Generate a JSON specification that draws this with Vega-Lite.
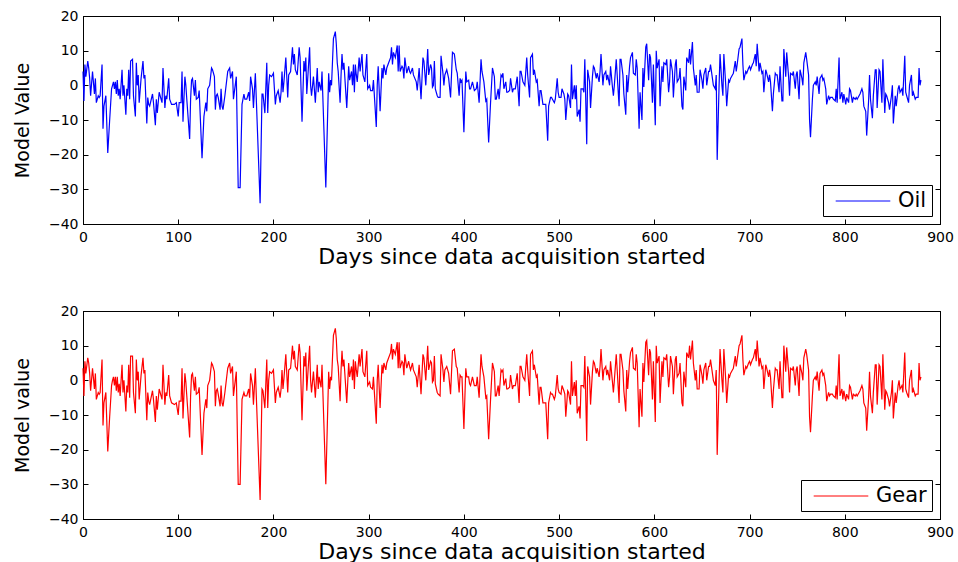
{
"$schema": "https://vega.github.io/schema/vega-lite/v6.json",
"padding": {"left": 12, "top": 8, "right": 5, "bottom": 0},
"background": "white",
"config": {
  "font": "DejaVu Sans",
  "view": {"stroke": "black", "strokeWidth": 1},
  "axis": {"grid": false, "domainColor": "black", "domainWidth": 1, "tickColor": "black", "tickSize": -5, "labelColor": "black", "titleColor": "black", "labelFont": "DejaVu Sans", "labelFontSize": 14, "titleFont": "DejaVu Sans", "titleFontWeight": "normal", "labelFlush": false, "labelOverlap": false},
  "legend": {"strokeColor": "black", "fillColor": "white", "cornerRadius": 0, "padding": 5, "labelFont": "DejaVu Sans", "labelFontSize": 21, "labelColor": "black", "symbolType": "M-2.6,0H2.6", "symbolSize": 441, "symbolStrokeWidth": 1, "symbolOffset": 24, "labelOffset": 24, "offset": 8, "labelExpr": "datum.label + ' '"}
},
"datasets": {"d": [
{"day":0,"Oil":4,"Gear":3.5},{"day":1,"Oil":-4.5,"Gear":-4.5},{"day":2,"Oil":6,"Gear":5.5},{"day":3,"Oil":2.5,"Gear":2},{"day":5,"Oil":7,"Gear":6.5},{"day":6,"Oil":5,"Gear":5},{"day":7,"Oil":2,"Gear":2},{"day":8,"Oil":-3,"Gear":-3},{"day":10,"Oil":4,"Gear":3.5},{"day":12,"Oil":-2.5,"Gear":-2.5},{"day":13,"Oil":2,"Gear":2},{"day":14,"Oil":-5,"Gear":-5.5},{"day":16,"Oil":-3,"Gear":-3.5},{"day":17,"Oil":-3.5,"Gear":-4},{"day":18,"Oil":-3,"Gear":-3.5},{"day":20,"Oil":6,"Gear":6},{"day":21,"Oil":-12.5,"Gear":-13},{"day":22,"Oil":-6,"Gear":-6.5},{"day":24,"Oil":-3,"Gear":-3.5},{"day":26,"Oil":-19.5,"Gear":-20.5},{"day":28,"Oil":-10,"Gear":-10.5},{"day":30,"Oil":-1,"Gear":-1.5},{"day":31,"Oil":0,"Gear":0},{"day":32,"Oil":1,"Gear":1},{"day":33,"Oil":-1,"Gear":-1.5},{"day":34,"Oil":1,"Gear":1},{"day":35,"Oil":-2.5,"Gear":-3},{"day":36,"Oil":1.5,"Gear":1},{"day":37,"Oil":-3,"Gear":-3.5},{"day":38,"Oil":-1,"Gear":-1},{"day":39,"Oil":-4,"Gear":-4.5},{"day":41,"Oil":4.5,"Gear":4.5},{"day":42,"Oil":-3,"Gear":-3.5},{"day":43,"Oil":0,"Gear":0},{"day":45,"Oil":-8.5,"Gear":-9},{"day":46,"Oil":-1,"Gear":-1.5},{"day":47,"Oil":-3,"Gear":-3.5},{"day":48,"Oil":4.5,"Gear":4.5},{"day":49,"Oil":-4,"Gear":-5},{"day":50,"Oil":7,"Gear":7},{"day":52,"Oil":7.5,"Gear":7},{"day":53,"Oil":-3,"Gear":-3.5},{"day":55,"Oil":-9,"Gear":-9.5},{"day":56,"Oil":6.5,"Gear":6},{"day":57,"Oil":0,"Gear":0},{"day":58,"Oil":3,"Gear":2.5},{"day":59,"Oil":-5,"Gear":-5.5},{"day":61,"Oil":2,"Gear":1.5},{"day":63,"Oil":7,"Gear":6.5},{"day":64,"Oil":2,"Gear":2},{"day":65,"Oil":3,"Gear":3},{"day":67,"Oil":-11,"Gear":-11.5},{"day":68,"Oil":-3.5,"Gear":-3.5},{"day":69,"Oil":-5.5,"Gear":-6},{"day":70,"Oil":-6,"Gear":-7},{"day":73,"Oil":-2.5,"Gear":-3},{"day":74,"Oil":-5,"Gear":-5.5},{"day":76,"Oil":-11.5,"Gear":-12},{"day":77,"Oil":-4,"Gear":-4.5},{"day":78,"Oil":-8,"Gear":-8.5},{"day":80,"Oil":-2,"Gear":-2.5},{"day":81,"Oil":-3,"Gear":-3.5},{"day":83,"Oil":-5,"Gear":-5.5},{"day":84,"Oil":5,"Gear":4.5},{"day":86,"Oil":-6.5,"Gear":-7},{"day":87,"Oil":-3,"Gear":-3.5},{"day":88,"Oil":-4,"Gear":-4.5},{"day":90,"Oil":2,"Gear":1.5},{"day":91,"Oil":-4,"Gear":-4.5},{"day":93,"Oil":-5.5,"Gear":-6.5},{"day":96,"Oil":-5.5,"Gear":-7},{"day":98,"Oil":-5,"Gear":-6.5},{"day":100,"Oil":-9,"Gear":-10},{"day":101,"Oil":-5,"Gear":-6},{"day":103,"Oil":-5,"Gear":-6},{"day":104,"Oil":4,"Gear":3.5},{"day":105,"Oil":-10.5,"Gear":-11},{"day":107,"Oil":2.5,"Gear":2},{"day":108,"Oil":0,"Gear":-0.5},{"day":109,"Oil":-4,"Gear":-4.5},{"day":112,"Oil":-15.5,"Gear":-16.5},{"day":113,"Oil":-4,"Gear":-4.5},{"day":114,"Oil":1.5,"Gear":1.5},{"day":115,"Oil":2,"Gear":2},{"day":117,"Oil":-3,"Gear":-3},{"day":118,"Oil":1.5,"Gear":1},{"day":119,"Oil":-4,"Gear":-4},{"day":121,"Oil":-3.5,"Gear":-3.5},{"day":122,"Oil":-1.5,"Gear":-2},{"day":125,"Oil":-21,"Gear":-21.5},{"day":127,"Oil":-9,"Gear":-9.5},{"day":129,"Oil":-5,"Gear":-5.5},{"day":130,"Oil":-7.5,"Gear":-8},{"day":131,"Oil":-1,"Gear":-1.5},{"day":133,"Oil":0,"Gear":0},{"day":135,"Oil":5,"Gear":5},{"day":136,"Oil":4.5,"Gear":4.5},{"day":138,"Oil":2.5,"Gear":2.5},{"day":139,"Oil":-7,"Gear":-7.5},{"day":140,"Oil":-3,"Gear":-3},{"day":141,"Oil":-2.5,"Gear":-2.5},{"day":142,"Oil":-3.5,"Gear":-4},{"day":144,"Oil":-7,"Gear":-7.5},{"day":145,"Oil":-1,"Gear":-1.5},{"day":146,"Oil":-6,"Gear":-6.5},{"day":147,"Oil":-7,"Gear":-7.5},{"day":149,"Oil":-3,"Gear":-3.5},{"day":152,"Oil":4,"Gear":3.5},{"day":154,"Oil":5,"Gear":5},{"day":155,"Oil":2,"Gear":2},{"day":157,"Oil":4,"Gear":4},{"day":158,"Oil":-4,"Gear":-4.5},{"day":161,"Oil":2.5,"Gear":2.5},{"day":163,"Oil":-29.5,"Gear":-30},{"day":165,"Oil":-29.5,"Gear":-30},{"day":167,"Oil":-5.5,"Gear":-5.5},{"day":169,"Oil":-2.5,"Gear":-3.5},{"day":170,"Oil":-4,"Gear":-4.5},{"day":172,"Oil":-4,"Gear":-4.5},{"day":174,"Oil":-2,"Gear":-2.5},{"day":175,"Oil":-4.5,"Gear":-5},{"day":176,"Oil":2.5,"Gear":2},{"day":178,"Oil":-1,"Gear":-1.5},{"day":179,"Oil":-6.5,"Gear":-7},{"day":181,"Oil":3.5,"Gear":3.5},{"day":182,"Oil":-4,"Gear":-4.5},{"day":186,"Oil":-34,"Gear":-34.5},{"day":188,"Oil":-2.5,"Gear":-2.5},{"day":189,"Oil":-2.5,"Gear":-3},{"day":191,"Oil":-8,"Gear":-8},{"day":193,"Oil":6.5,"Gear":6},{"day":194,"Oil":-8,"Gear":-8},{"day":195,"Oil":0,"Gear":0},{"day":196,"Oil":3,"Gear":2.5},{"day":198,"Oil":2.5,"Gear":2},{"day":200,"Oil":3.5,"Gear":3},{"day":202,"Oil":-5.5,"Gear":-6.5},{"day":203,"Oil":-3,"Gear":-3.5},{"day":205,"Oil":-1.5,"Gear":-2},{"day":207,"Oil":-5,"Gear":-5},{"day":208,"Oil":-2,"Gear":-2.5},{"day":209,"Oil":4,"Gear":3},{"day":210,"Oil":-2,"Gear":-2.5},{"day":211,"Oil":1,"Gear":0.5},{"day":213,"Oil":8,"Gear":7.5},{"day":214,"Oil":2.5,"Gear":2},{"day":215,"Oil":-3.5,"Gear":-3.5},{"day":216,"Oil":3,"Gear":3},{"day":218,"Oil":4,"Gear":3.5},{"day":220,"Oil":11,"Gear":10},{"day":221,"Oil":6,"Gear":6},{"day":222,"Oil":9,"Gear":8.5},{"day":223,"Oil":4.5,"Gear":4},{"day":225,"Oil":3,"Gear":3},{"day":227,"Oil":11,"Gear":10.5},{"day":228,"Oil":8,"Gear":8},{"day":230,"Oil":-10.5,"Gear":-11.5},{"day":232,"Oil":7,"Gear":7},{"day":233,"Oil":4,"Gear":4},{"day":234,"Oil":8,"Gear":8},{"day":235,"Oil":-2.5,"Gear":-3},{"day":238,"Oil":11,"Gear":10},{"day":239,"Oil":0,"Gear":0},{"day":240,"Oil":-3,"Gear":-3.5},{"day":242,"Oil":2.5,"Gear":2.5},{"day":244,"Oil":-5,"Gear":-5},{"day":246,"Oil":5,"Gear":4.5},{"day":247,"Oil":-2,"Gear":-2.5},{"day":248,"Oil":1,"Gear":1},{"day":250,"Oil":-1.5,"Gear":-2},{"day":251,"Oil":4,"Gear":4.5},{"day":255,"Oil":-29.5,"Gear":-30},{"day":258,"Oil":3.5,"Gear":2.5},{"day":259,"Oil":-2,"Gear":-2.5},{"day":260,"Oil":1.5,"Gear":1},{"day":261,"Oil":0,"Gear":0},{"day":263,"Oil":13.5,"Gear":13},{"day":265,"Oil":15.5,"Gear":15},{"day":266,"Oil":12,"Gear":12},{"day":267,"Oil":6.5,"Gear":6},{"day":268,"Oil":4,"Gear":4},{"day":270,"Oil":-5,"Gear":-6},{"day":271,"Oil":3,"Gear":3},{"day":272,"Oil":9,"Gear":8.5},{"day":273,"Oil":4.5,"Gear":4},{"day":274,"Oil":6.5,"Gear":6},{"day":277,"Oil":-6.5,"Gear":-6.5},{"day":279,"Oil":5.5,"Gear":5},{"day":280,"Oil":1.5,"Gear":1},{"day":282,"Oil":4,"Gear":4},{"day":283,"Oil":0,"Gear":0},{"day":284,"Oil":6,"Gear":6},{"day":285,"Oil":-2,"Gear":-2.5},{"day":286,"Oil":6,"Gear":5.5},{"day":287,"Oil":3,"Gear":3},{"day":288,"Oil":1,"Gear":1},{"day":290,"Oil":8,"Gear":7.5},{"day":291,"Oil":4,"Gear":4},{"day":293,"Oil":9,"Gear":9},{"day":294,"Oil":3,"Gear":2.5},{"day":296,"Oil":1,"Gear":1},{"day":298,"Oil":9,"Gear":8.5},{"day":299,"Oil":-1,"Gear":-1.5},{"day":301,"Oil":0,"Gear":-0.5},{"day":302,"Oil":-1.5,"Gear":-2},{"day":304,"Oil":-1.5,"Gear":-2.5},{"day":305,"Oil":1.5,"Gear":1},{"day":308,"Oil":-12,"Gear":-12.5},{"day":309,"Oil":0,"Gear":0},{"day":310,"Oil":5.5,"Gear":4.5},{"day":312,"Oil":-7.5,"Gear":-8},{"day":314,"Oil":5,"Gear":4.5},{"day":315,"Oil":2,"Gear":2},{"day":316,"Oil":6,"Gear":5},{"day":318,"Oil":3,"Gear":3},{"day":319,"Oil":5,"Gear":5},{"day":321,"Oil":6.5,"Gear":6.5},{"day":323,"Oil":8,"Gear":8},{"day":324,"Oil":11,"Gear":10.5},{"day":325,"Oil":6,"Gear":6},{"day":326,"Oil":9.5,"Gear":9},{"day":328,"Oil":8,"Gear":7.5},{"day":330,"Oil":11.5,"Gear":11},{"day":331,"Oil":4,"Gear":3.5},{"day":332,"Oil":11.5,"Gear":11},{"day":333,"Oil":4,"Gear":3.5},{"day":335,"Oil":5.5,"Gear":5.5},{"day":336,"Oil":5,"Gear":5},{"day":337,"Oil":2,"Gear":1.5},{"day":338,"Oil":8,"Gear":7.5},{"day":340,"Oil":3.5,"Gear":3.5},{"day":342,"Oil":5.5,"Gear":5.5},{"day":343,"Oil":4,"Gear":4},{"day":344,"Oil":3.5,"Gear":3},{"day":346,"Oil":5,"Gear":5},{"day":347,"Oil":3,"Gear":3},{"day":350,"Oil":1,"Gear":1},{"day":351,"Oil":-1.5,"Gear":-2},{"day":353,"Oil":5,"Gear":4.5},{"day":355,"Oil":-4,"Gear":-4},{"day":357,"Oil":8,"Gear":7.5},{"day":358,"Oil":7,"Gear":6.5},{"day":360,"Oil":0,"Gear":0},{"day":362,"Oil":10.5,"Gear":10},{"day":363,"Oil":3,"Gear":3},{"day":365,"Oil":6,"Gear":5.5},{"day":366,"Oil":5,"Gear":5},{"day":367,"Oil":-0.5,"Gear":-0.5},{"day":368,"Oil":0,"Gear":0},{"day":369,"Oil":7,"Gear":7},{"day":370,"Oil":-1,"Gear":-1},{"day":372,"Oil":-3,"Gear":-3.5},{"day":373,"Oil":-3.5,"Gear":-4},{"day":375,"Oil":-3.5,"Gear":-4.5},{"day":376,"Oil":8.5,"Gear":7.5},{"day":378,"Oil":3.5,"Gear":3},{"day":379,"Oil":0,"Gear":-0.5},{"day":380,"Oil":3,"Gear":3},{"day":382,"Oil":4.5,"Gear":4},{"day":384,"Oil":2,"Gear":2},{"day":386,"Oil":-3.5,"Gear":-4},{"day":388,"Oil":9.5,"Gear":8.5},{"day":390,"Oil":9,"Gear":9},{"day":392,"Oil":4.5,"Gear":4},{"day":393,"Oil":3.5,"Gear":3.5},{"day":395,"Oil":-3,"Gear":-3.5},{"day":396,"Oil":2,"Gear":1.5},{"day":397,"Oil":1,"Gear":1},{"day":398,"Oil":1.5,"Gear":1},{"day":400,"Oil":-13.5,"Gear":-14},{"day":402,"Oil":4,"Gear":3.5},{"day":403,"Oil":1,"Gear":1},{"day":405,"Oil":1.5,"Gear":1},{"day":406,"Oil":-1,"Gear":-1},{"day":407,"Oil":-1,"Gear":-1.5},{"day":409,"Oil":1,"Gear":1},{"day":411,"Oil":-1.5,"Gear":-1.5},{"day":413,"Oil":-1,"Gear":-1.5},{"day":414,"Oil":1,"Gear":1},{"day":416,"Oil":-5,"Gear":-5},{"day":418,"Oil":7.5,"Gear":7.5},{"day":419,"Oil":4,"Gear":4},{"day":421,"Oil":1,"Gear":1},{"day":423,"Oil":-4.5,"Gear":-5},{"day":424,"Oil":-4,"Gear":-4.5},{"day":426,"Oil":-16.5,"Gear":-17},{"day":428,"Oil":-5,"Gear":-5.5},{"day":430,"Oil":5,"Gear":5},{"day":432,"Oil":2.5,"Gear":2.5},{"day":433,"Oil":-4,"Gear":-4.5},{"day":434,"Oil":-4,"Gear":-4.5},{"day":436,"Oil":-1,"Gear":-1.5},{"day":437,"Oil":-4,"Gear":-4.5},{"day":439,"Oil":3,"Gear":3},{"day":440,"Oil":2.5,"Gear":2.5},{"day":441,"Oil":3.5,"Gear":3},{"day":442,"Oil":-1,"Gear":-1.5},{"day":444,"Oil":1,"Gear":0.5},{"day":445,"Oil":-2,"Gear":-2.5},{"day":446,"Oil":-2,"Gear":-2.5},{"day":448,"Oil":-1.5,"Gear":-2},{"day":449,"Oil":2,"Gear":1.5},{"day":451,"Oil":-2,"Gear":-2.5},{"day":452,"Oil":-1,"Gear":-1.5},{"day":454,"Oil":-1,"Gear":-1.5},{"day":456,"Oil":2.5,"Gear":2},{"day":458,"Oil":-6,"Gear":-6.5},{"day":459,"Oil":4,"Gear":4},{"day":460,"Oil":4,"Gear":4},{"day":462,"Oil":1,"Gear":1},{"day":464,"Oil":0,"Gear":0},{"day":466,"Oil":8,"Gear":7.5},{"day":467,"Oil":3,"Gear":3},{"day":469,"Oil":-3.5,"Gear":-4.5},{"day":470,"Oil":8,"Gear":7.5},{"day":472,"Oil":9,"Gear":8.5},{"day":473,"Oil":3,"Gear":3},{"day":474,"Oil":4.5,"Gear":4.5},{"day":476,"Oil":1,"Gear":1},{"day":477,"Oil":1.5,"Gear":1.5},{"day":479,"Oil":-6,"Gear":-7},{"day":480,"Oil":-1.5,"Gear":-2},{"day":481,"Oil":-1.5,"Gear":-2},{"day":483,"Oil":-5.5,"Gear":-6.5},{"day":484,"Oil":-5.5,"Gear":-6.5},{"day":486,"Oil":-5.5,"Gear":-6.5},{"day":488,"Oil":-16,"Gear":-17},{"day":489,"Oil":-6,"Gear":-6.5},{"day":491,"Oil":-3.5,"Gear":-3.5},{"day":492,"Oil":-3.5,"Gear":-4},{"day":493,"Oil":-4,"Gear":-4},{"day":495,"Oil":-5,"Gear":-5.5},{"day":496,"Oil":-4,"Gear":-4.5},{"day":498,"Oil":2,"Gear":1.5},{"day":499,"Oil":-2,"Gear":-2.5},{"day":500,"Oil":-3.5,"Gear":-3.5},{"day":502,"Oil":-3.5,"Gear":-4},{"day":503,"Oil":-1,"Gear":-1.5},{"day":505,"Oil":-2.5,"Gear":-3},{"day":506,"Oil":-4,"Gear":-4},{"day":507,"Oil":-10,"Gear":-10.5},{"day":509,"Oil":-2.5,"Gear":-3},{"day":510,"Oil":-3,"Gear":-3.5},{"day":512,"Oil":-6.5,"Gear":-7},{"day":513,"Oil":6,"Gear":5.5},{"day":514,"Oil":-4,"Gear":-4.5},{"day":516,"Oil":0,"Gear":-0.5},{"day":517,"Oil":-4,"Gear":-4.5},{"day":518,"Oil":0,"Gear":0},{"day":519,"Oil":-9,"Gear":-9.5},{"day":521,"Oil":-7,"Gear":-7.5},{"day":522,"Oil":-10.5,"Gear":-11},{"day":523,"Oil":-1,"Gear":-1.5},{"day":525,"Oil":-1,"Gear":-1.5},{"day":526,"Oil":-2,"Gear":-2},{"day":527,"Oil":7.5,"Gear":7},{"day":529,"Oil":-17,"Gear":-17.5},{"day":530,"Oil":4.5,"Gear":4},{"day":532,"Oil":1,"Gear":1},{"day":533,"Oil":-6.5,"Gear":-7},{"day":535,"Oil":2.5,"Gear":2.5},{"day":536,"Oil":5.5,"Gear":5.5},{"day":537,"Oil":5,"Gear":5},{"day":539,"Oil":2,"Gear":2},{"day":540,"Oil":3.5,"Gear":3.5},{"day":542,"Oil":1,"Gear":1},{"day":543,"Oil":4,"Gear":4},{"day":544,"Oil":9,"Gear":9},{"day":546,"Oil":0,"Gear":0},{"day":547,"Oil":3,"Gear":3},{"day":549,"Oil":4,"Gear":4},{"day":550,"Oil":1.5,"Gear":1.5},{"day":551,"Oil":3,"Gear":3},{"day":553,"Oil":0,"Gear":0},{"day":554,"Oil":5.5,"Gear":5.5},{"day":556,"Oil":-0.5,"Gear":-0.5},{"day":557,"Oil":-3,"Gear":-3.5},{"day":558,"Oil":0,"Gear":0},{"day":560,"Oil":7.5,"Gear":7.5},{"day":561,"Oil":3,"Gear":3},{"day":563,"Oil":-6,"Gear":-6.5},{"day":564,"Oil":7.5,"Gear":7.5},{"day":565,"Oil":7.5,"Gear":7.5},{"day":567,"Oil":3,"Gear":3},{"day":568,"Oil":-2.5,"Gear":-3},{"day":570,"Oil":-8.5,"Gear":-9},{"day":571,"Oil":3,"Gear":3},{"day":572,"Oil":-2,"Gear":-2.5},{"day":574,"Oil":5.5,"Gear":5.5},{"day":575,"Oil":8,"Gear":8},{"day":577,"Oil":9.5,"Gear":9.5},{"day":578,"Oil":3.5,"Gear":3.5},{"day":580,"Oil":3,"Gear":3},{"day":581,"Oil":7.5,"Gear":7.5},{"day":582,"Oil":5,"Gear":5},{"day":584,"Oil":-12.5,"Gear":-13.5},{"day":585,"Oil":-2,"Gear":-2.5},{"day":587,"Oil":-10,"Gear":-10.5},{"day":588,"Oil":5,"Gear":5},{"day":589,"Oil":-0.5,"Gear":-0.5},{"day":591,"Oil":11,"Gear":11},{"day":592,"Oil":12,"Gear":11.5},{"day":594,"Oil":1.5,"Gear":1.5},{"day":595,"Oil":9,"Gear":9},{"day":596,"Oil":8,"Gear":8},{"day":598,"Oil":-5,"Gear":-5.5},{"day":599,"Oil":6,"Gear":5.5},{"day":601,"Oil":-11.5,"Gear":-12},{"day":602,"Oil":10,"Gear":10},{"day":603,"Oil":5,"Gear":5},{"day":605,"Oil":7.5,"Gear":7},{"day":606,"Oil":-6,"Gear":-6.5},{"day":608,"Oil":5.5,"Gear":5.5},{"day":609,"Oil":1,"Gear":1},{"day":610,"Oil":6.5,"Gear":6.5},{"day":612,"Oil":6,"Gear":6},{"day":613,"Oil":7.5,"Gear":7.5},{"day":615,"Oil":-2,"Gear":-2},{"day":616,"Oil":1,"Gear":1},{"day":617,"Oil":7.5,"Gear":7},{"day":619,"Oil":4,"Gear":4},{"day":620,"Oil":-3.5,"Gear":-4},{"day":622,"Oil":6,"Gear":6},{"day":623,"Oil":7.5,"Gear":7},{"day":624,"Oil":1,"Gear":1},{"day":626,"Oil":2,"Gear":2},{"day":627,"Oil":5,"Gear":5},{"day":629,"Oil":-6,"Gear":-6.5},{"day":630,"Oil":-7,"Gear":-7.5},{"day":631,"Oil":2.5,"Gear":2.5},{"day":633,"Oil":-1.5,"Gear":-2},{"day":634,"Oil":8,"Gear":8},{"day":636,"Oil":6.5,"Gear":6.5},{"day":637,"Oil":10.5,"Gear":10},{"day":638,"Oil":6,"Gear":6},{"day":640,"Oil":12.5,"Gear":11.5},{"day":641,"Oil":5,"Gear":5},{"day":643,"Oil":0,"Gear":0},{"day":644,"Oil":3,"Gear":3},{"day":645,"Oil":-2,"Gear":-2.5},{"day":647,"Oil":-2,"Gear":-2.5},{"day":648,"Oil":4.5,"Gear":4.5},{"day":650,"Oil":1.5,"Gear":1.5},{"day":651,"Oil":-1,"Gear":-1},{"day":652,"Oil":3,"Gear":3},{"day":654,"Oil":5,"Gear":5},{"day":655,"Oil":0,"Gear":0},{"day":657,"Oil":4,"Gear":4},{"day":658,"Oil":4,"Gear":4},{"day":659,"Oil":6,"Gear":6},{"day":661,"Oil":2,"Gear":2},{"day":662,"Oil":0,"Gear":0},{"day":664,"Oil":-1,"Gear":-1.5},{"day":665,"Oil":3,"Gear":3},{"day":666,"Oil":-21.5,"Gear":-21.5},{"day":668,"Oil":0,"Gear":0},{"day":669,"Oil":9,"Gear":9},{"day":671,"Oil":0,"Gear":0},{"day":672,"Oil":-3,"Gear":-3.5},{"day":673,"Oil":9,"Gear":9},{"day":675,"Oil":0,"Gear":0},{"day":676,"Oil":-6,"Gear":-6.5},{"day":678,"Oil":1.5,"Gear":1.5},{"day":679,"Oil":1,"Gear":1},{"day":680,"Oil":2,"Gear":2},{"day":682,"Oil":3,"Gear":3},{"day":683,"Oil":3.5,"Gear":3.5},{"day":685,"Oil":7,"Gear":7},{"day":686,"Oil":4,"Gear":4},{"day":687,"Oil":6,"Gear":6},{"day":689,"Oil":10.5,"Gear":10},{"day":690,"Oil":11,"Gear":10.5},{"day":692,"Oil":13.5,"Gear":13},{"day":693,"Oil":6,"Gear":6},{"day":694,"Oil":1.5,"Gear":1.5},{"day":696,"Oil":4,"Gear":4},{"day":697,"Oil":3.5,"Gear":3.5},{"day":699,"Oil":5,"Gear":5},{"day":700,"Oil":5.5,"Gear":5.5},{"day":701,"Oil":4.5,"Gear":4.5},{"day":703,"Oil":6,"Gear":6},{"day":704,"Oil":6.5,"Gear":6.5},{"day":706,"Oil":9,"Gear":9},{"day":707,"Oil":5.5,"Gear":5.5},{"day":708,"Oil":12,"Gear":11.5},{"day":710,"Oil":4,"Gear":4},{"day":711,"Oil":6.5,"Gear":6.5},{"day":713,"Oil":3.5,"Gear":3.5},{"day":714,"Oil":4,"Gear":4},{"day":715,"Oil":-2,"Gear":-2.5},{"day":717,"Oil":4.5,"Gear":4.5},{"day":718,"Oil":3.5,"Gear":3.5},{"day":720,"Oil":1,"Gear":1},{"day":721,"Oil":3,"Gear":3},{"day":722,"Oil":1,"Gear":1},{"day":724,"Oil":-7.5,"Gear":-8},{"day":725,"Oil":-2.5,"Gear":-3},{"day":727,"Oil":3.5,"Gear":3.5},{"day":728,"Oil":3,"Gear":3},{"day":729,"Oil":3,"Gear":3},{"day":731,"Oil":-2,"Gear":-2.5},{"day":732,"Oil":5.5,"Gear":5.5},{"day":734,"Oil":-4.5,"Gear":-5},{"day":735,"Oil":-4.5,"Gear":-5},{"day":736,"Oil":10.5,"Gear":10},{"day":738,"Oil":2.5,"Gear":2.5},{"day":739,"Oil":9.5,"Gear":9.5},{"day":741,"Oil":2.5,"Gear":2.5},{"day":742,"Oil":-3,"Gear":-3.5},{"day":743,"Oil":3.5,"Gear":3.5},{"day":745,"Oil":3,"Gear":3},{"day":746,"Oil":4,"Gear":4},{"day":748,"Oil":-1,"Gear":-1.5},{"day":749,"Oil":3,"Gear":3},{"day":750,"Oil":4,"Gear":4},{"day":752,"Oil":-4,"Gear":-4.5},{"day":753,"Oil":4.5,"Gear":4.5},{"day":755,"Oil":2,"Gear":2},{"day":756,"Oil":0,"Gear":0},{"day":757,"Oil":6.5,"Gear":6.5},{"day":759,"Oil":9.5,"Gear":9},{"day":760,"Oil":7.5,"Gear":7.5},{"day":762,"Oil":3,"Gear":3},{"day":763,"Oil":-10,"Gear":-10.5},{"day":764,"Oil":-15,"Gear":-15},{"day":766,"Oil":-4,"Gear":-4.5},{"day":767,"Oil":0,"Gear":0},{"day":769,"Oil":1,"Gear":1},{"day":770,"Oil":0,"Gear":0},{"day":771,"Oil":2.5,"Gear":2.5},{"day":773,"Oil":-2.5,"Gear":-3},{"day":774,"Oil":2,"Gear":2},{"day":776,"Oil":3,"Gear":3},{"day":777,"Oil":1.5,"Gear":1.5},{"day":778,"Oil":2,"Gear":2},{"day":780,"Oil":-1,"Gear":-1.5},{"day":781,"Oil":-5.5,"Gear":-6},{"day":783,"Oil":-3,"Gear":-3.5},{"day":784,"Oil":-4,"Gear":-4.5},{"day":785,"Oil":-3.5,"Gear":-4},{"day":787,"Oil":-3.5,"Gear":-4},{"day":788,"Oil":-4,"Gear":-4.5},{"day":790,"Oil":-4.5,"Gear":-5},{"day":791,"Oil":-1,"Gear":-1.5},{"day":792,"Oil":-5,"Gear":-5.5},{"day":794,"Oil":8,"Gear":7.5},{"day":795,"Oil":-4,"Gear":-4.5},{"day":797,"Oil":-2,"Gear":-2.5},{"day":798,"Oil":-5,"Gear":-5.5},{"day":799,"Oil":-2.5,"Gear":-3},{"day":801,"Oil":-5.5,"Gear":-6},{"day":802,"Oil":-3.5,"Gear":-4},{"day":804,"Oil":-5,"Gear":-5.5},{"day":805,"Oil":-1,"Gear":-1.5},{"day":806,"Oil":-1.5,"Gear":-2},{"day":808,"Oil":-5,"Gear":-5.5},{"day":809,"Oil":-3.5,"Gear":-4},{"day":811,"Oil":-4,"Gear":-4.5},{"day":812,"Oil":-3.5,"Gear":-4},{"day":813,"Oil":-4,"Gear":-4.5},{"day":815,"Oil":-3,"Gear":-3.5},{"day":816,"Oil":-2.5,"Gear":-3},{"day":818,"Oil":-1,"Gear":-1.5},{"day":819,"Oil":-2,"Gear":-2.5},{"day":820,"Oil":-6,"Gear":-6.5},{"day":822,"Oil":-7.5,"Gear":-8},{"day":823,"Oil":-14.5,"Gear":-14.5},{"day":825,"Oil":-4.5,"Gear":-5},{"day":826,"Oil":3,"Gear":2.5},{"day":827,"Oil":-4,"Gear":-4.5},{"day":829,"Oil":-9.5,"Gear":-9.5},{"day":830,"Oil":-3,"Gear":-3.5},{"day":832,"Oil":4.5,"Gear":4.5},{"day":833,"Oil":4.5,"Gear":4.5},{"day":834,"Oil":-6.5,"Gear":-7},{"day":836,"Oil":4.5,"Gear":4.5},{"day":837,"Oil":4,"Gear":4},{"day":839,"Oil":-5,"Gear":-5.5},{"day":840,"Oil":7.5,"Gear":7.5},{"day":842,"Oil":-8,"Gear":-8.5},{"day":843,"Oil":-2.5,"Gear":-3},{"day":844,"Oil":-3,"Gear":-3.5},{"day":846,"Oil":-5,"Gear":-5.5},{"day":847,"Oil":-7,"Gear":-7.5},{"day":849,"Oil":-3,"Gear":-3.5},{"day":850,"Oil":0,"Gear":0},{"day":851,"Oil":-11,"Gear":-11},{"day":853,"Oil":-3,"Gear":-3.5},{"day":854,"Oil":-6,"Gear":-6.5},{"day":856,"Oil":-1,"Gear":-1.5},{"day":857,"Oil":0,"Gear":0},{"day":858,"Oil":-2,"Gear":-2.5},{"day":860,"Oil":-1,"Gear":-1.5},{"day":861,"Oil":-3,"Gear":-3.5},{"day":863,"Oil":8.5,"Gear":8},{"day":864,"Oil":-2,"Gear":-2.5},{"day":865,"Oil":-3,"Gear":-3.5},{"day":867,"Oil":-5,"Gear":-5},{"day":868,"Oil":0,"Gear":0},{"day":870,"Oil":3,"Gear":3},{"day":871,"Oil":-3,"Gear":-3.5},{"day":872,"Oil":-2,"Gear":-2.5},{"day":874,"Oil":-4,"Gear":-4.5},{"day":875,"Oil":-3.5,"Gear":-4},{"day":877,"Oil":-3.5,"Gear":-4},{"day":878,"Oil":5,"Gear":5},{"day":879,"Oil":0,"Gear":0},{"day":880,"Oil":1.5,"Gear":1}
]},
"vconcat": [
  {
    "width": 857, "height": 208,
    "data": {"name": "d"},
    "transform": [{"fold": ["Oil"], "as": ["series", "value"]}],
    "layer": [
      {
        "mark": {"type": "line", "strokeWidth": 1.2},
        "encoding": {
          "x": {"field": "day", "type": "quantitative", "scale": {"domain": [0, 900], "nice": false}, "axis": {"orient": "bottom", "values": [0,100,200,300,400,500,600,700,800,900], "title": "Days since data acquisition started", "titleFontSize": 22, "labelPadding": 11, "titlePadding": 2}},
          "y": {"field": "value", "type": "quantitative", "scale": {"domain": [-40, 20], "nice": false}, "axis": {"orient": "left", "values": [-40,-30,-20,-10,0,10,20], "title": "Model Value", "titleFontSize": 19, "labelPadding": 10, "titlePadding": 16}},
          "color": {"field": "series", "type": "nominal", "scale": {"domain": ["Oil"], "range": ["#0000ff"]}, "legend": {"orient": "bottom-right", "title": null}}
        }
      },
      {
        "mark": {"type": "line", "opacity": 0},
        "encoding": {
          "x": {"field": "day", "type": "quantitative", "axis": {"orient": "top", "values": [0,100,200,300,400,500,600,700,800,900], "labels": false, "title": null}},
          "y": {"field": "value", "type": "quantitative", "axis": {"orient": "right", "values": [-40,-30,-20,-10,0,10,20], "labels": false, "title": null}}
        }
      }
    ],
    "resolve": {"axis": {"x": "independent", "y": "independent"}}
  },
  {
    "width": 857, "height": 208,
    "data": {"name": "d"},
    "transform": [{"fold": ["Gear"], "as": ["series", "value"]}],
    "layer": [
      {
        "mark": {"type": "line", "strokeWidth": 1.2},
        "encoding": {
          "x": {"field": "day", "type": "quantitative", "scale": {"domain": [0, 900], "nice": false}, "axis": {"orient": "bottom", "values": [0,100,200,300,400,500,600,700,800,900], "title": "Days since data acquisition started", "titleFontSize": 22, "labelPadding": 11, "titlePadding": 2}},
          "y": {"field": "value", "type": "quantitative", "scale": {"domain": [-40, 20], "nice": false}, "axis": {"orient": "left", "values": [-40,-30,-20,-10,0,10,20], "title": "Model value", "titleFontSize": 19, "labelPadding": 10, "titlePadding": 16}},
          "color": {"field": "series", "type": "nominal", "scale": {"domain": ["Gear"], "range": ["#ff0000"]}, "legend": {"orient": "bottom-right", "title": null}}
        }
      },
      {
        "mark": {"type": "line", "opacity": 0},
        "encoding": {
          "x": {"field": "day", "type": "quantitative", "axis": {"orient": "top", "values": [0,100,200,300,400,500,600,700,800,900], "labels": false, "title": null}},
          "y": {"field": "value", "type": "quantitative", "axis": {"orient": "right", "values": [-40,-30,-20,-10,0,10,20], "labels": false, "title": null}}
        }
      }
    ],
    "resolve": {"axis": {"x": "independent", "y": "independent"}}
  }
],
"spacing": 35,
"resolve": {"scale": {"color": "independent"}, "legend": {"color": "independent"}}
}
